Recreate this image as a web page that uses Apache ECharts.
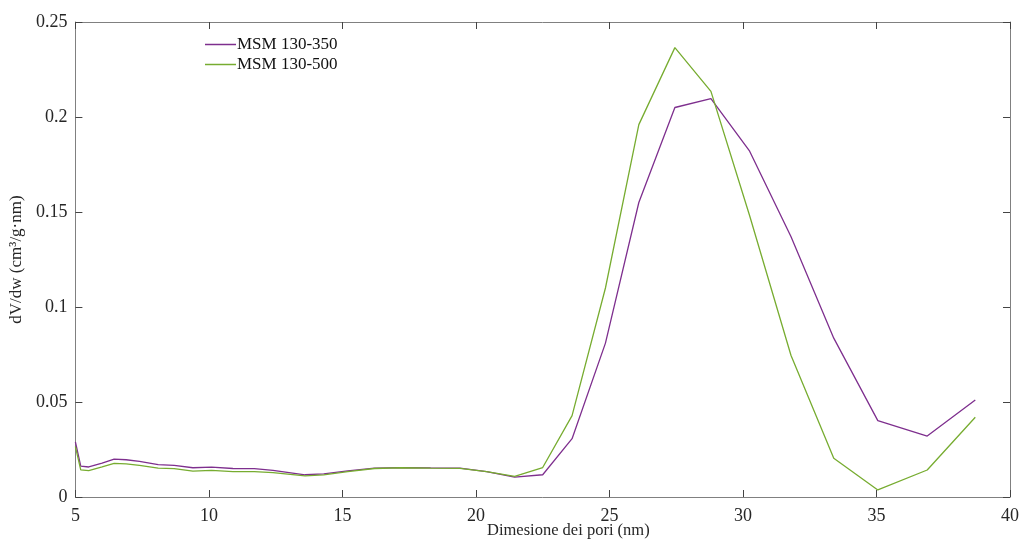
<!DOCTYPE html>
<html>
<head>
<meta charset="utf-8">
<script src="https://cdn.jsdelivr.net/npm/echarts@6/dist/echarts.min.js"></script>
<style>html,body{margin:0;padding:0;background:#fff;}#c{width:1022px;height:548px;}</style>
</head>
<body>
<div id="c"></div>
<script>
const poreSize = [5.0, 5.2, 5.5, 6.0, 6.45, 6.9, 7.4, 8.1, 8.7, 9.4, 10.1, 10.9, 11.7, 12.4, 13.6, 14.3, 15.2, 16.2, 17.2, 18.3, 19.4, 20.4, 21.45, 22.5, 23.6, 24.85, 26.1, 27.45, 28.8, 30.25, 31.8, 33.4, 35.05, 36.9, 38.7];
const msm350 = [0.0290, 0.0163, 0.0158, 0.0178, 0.0199, 0.0196, 0.0187, 0.0170, 0.0166, 0.0154, 0.0157, 0.0150, 0.0149, 0.0140, 0.0117, 0.0122, 0.0138, 0.0152, 0.0155, 0.0153, 0.0152, 0.0133, 0.0105, 0.0117, 0.0307, 0.081, 0.155, 0.205, 0.2097, 0.182, 0.137, 0.0836, 0.0402, 0.0321, 0.0511];
const msm500 = [0.0265, 0.0143, 0.0139, 0.0158, 0.0177, 0.0174, 0.0166, 0.0152, 0.0149, 0.0136, 0.0140, 0.0134, 0.0134, 0.0128, 0.0111, 0.0116, 0.0134, 0.0150, 0.0154, 0.0152, 0.0151, 0.0133, 0.0108, 0.0155, 0.0428, 0.110, 0.196, 0.2365, 0.2135, 0.148, 0.0745, 0.0204, 0.0037, 0.0142, 0.0420];
const seriesNames = ['MSM 130-350', 'MSM 130-500'];

const font = 'Liberation Serif, Times New Roman, serif';
const axisCol = '#808080';
const textCol = '#262626';
const pairs = ys => poreSize.map((x, i) => [x, ys[i]]);

const chart = echarts.init(document.getElementById('c'));
const xBase = {
  type: 'value', min: 5, max: 40, interval: 5,
  axisLine: { show: true, onZero: false, lineStyle: { color: axisCol, width: 1 } },
  axisTick: { show: true, inside: true, length: 7, lineStyle: { color: '#444' } },
  splitLine: { show: false }
};
const yBase = {
  type: 'value', min: 0, max: 0.25, interval: 0.05,
  axisLine: { show: true, onZero: false, lineStyle: { color: axisCol, width: 1 } },
  axisTick: { show: true, inside: true, length: 7, lineStyle: { color: '#444' } },
  splitLine: { show: false }
};
chart.setOption({
  animation: false,
  backgroundColor: '#fff',
  grid: { left: 73, right: 12, top: 22, bottom: 51 },
  legend: {
    left: 200, top: 31, orient: 'vertical', itemGap: 3,
    icon: 'rect', itemWidth: 31, itemHeight: 1.5,
    textStyle: { fontFamily: font, fontSize: 17, color: '#111', padding: [0, 0, 0, -4] },
    data: seriesNames
  },
  xAxis: [
    Object.assign({}, xBase, { position: 'bottom',
      axisLabel: { fontFamily: font, fontSize: 18, color: textCol, margin: 10 } }),
    Object.assign({}, xBase, { position: 'top', axisLabel: { show: false } })
  ],
  yAxis: [
    Object.assign({}, yBase, { position: 'left',
      name: 'dV/dw (cm³/g·nm)', nameLocation: 'middle', nameGap: 45,
      nameTextStyle: { fontFamily: font, fontSize: 17, color: textCol },
      axisLabel: { fontFamily: font, fontSize: 18, color: textCol, margin: 8 } }),
    Object.assign({}, yBase, { position: 'right', axisLabel: { show: false } })
  ],
  graphic: [{
    type: 'text', left: 487, top: 522,
    style: { text: 'Dimesione dei pori (nm)', fontFamily: font, fontSize: 16.5, fill: textCol }
  }],
  series: [
    { name: seriesNames[0], type: 'line', data: pairs(msm350), symbol: 'none',
      lineStyle: { color: '#7E2F8E', width: 1.3 }, itemStyle: { color: '#7E2F8E' } },
    { name: seriesNames[1], type: 'line', data: pairs(msm500), symbol: 'none',
      lineStyle: { color: '#77AC30', width: 1.3 }, itemStyle: { color: '#77AC30' } }
  ]
});
</script>
</body>
</html>
